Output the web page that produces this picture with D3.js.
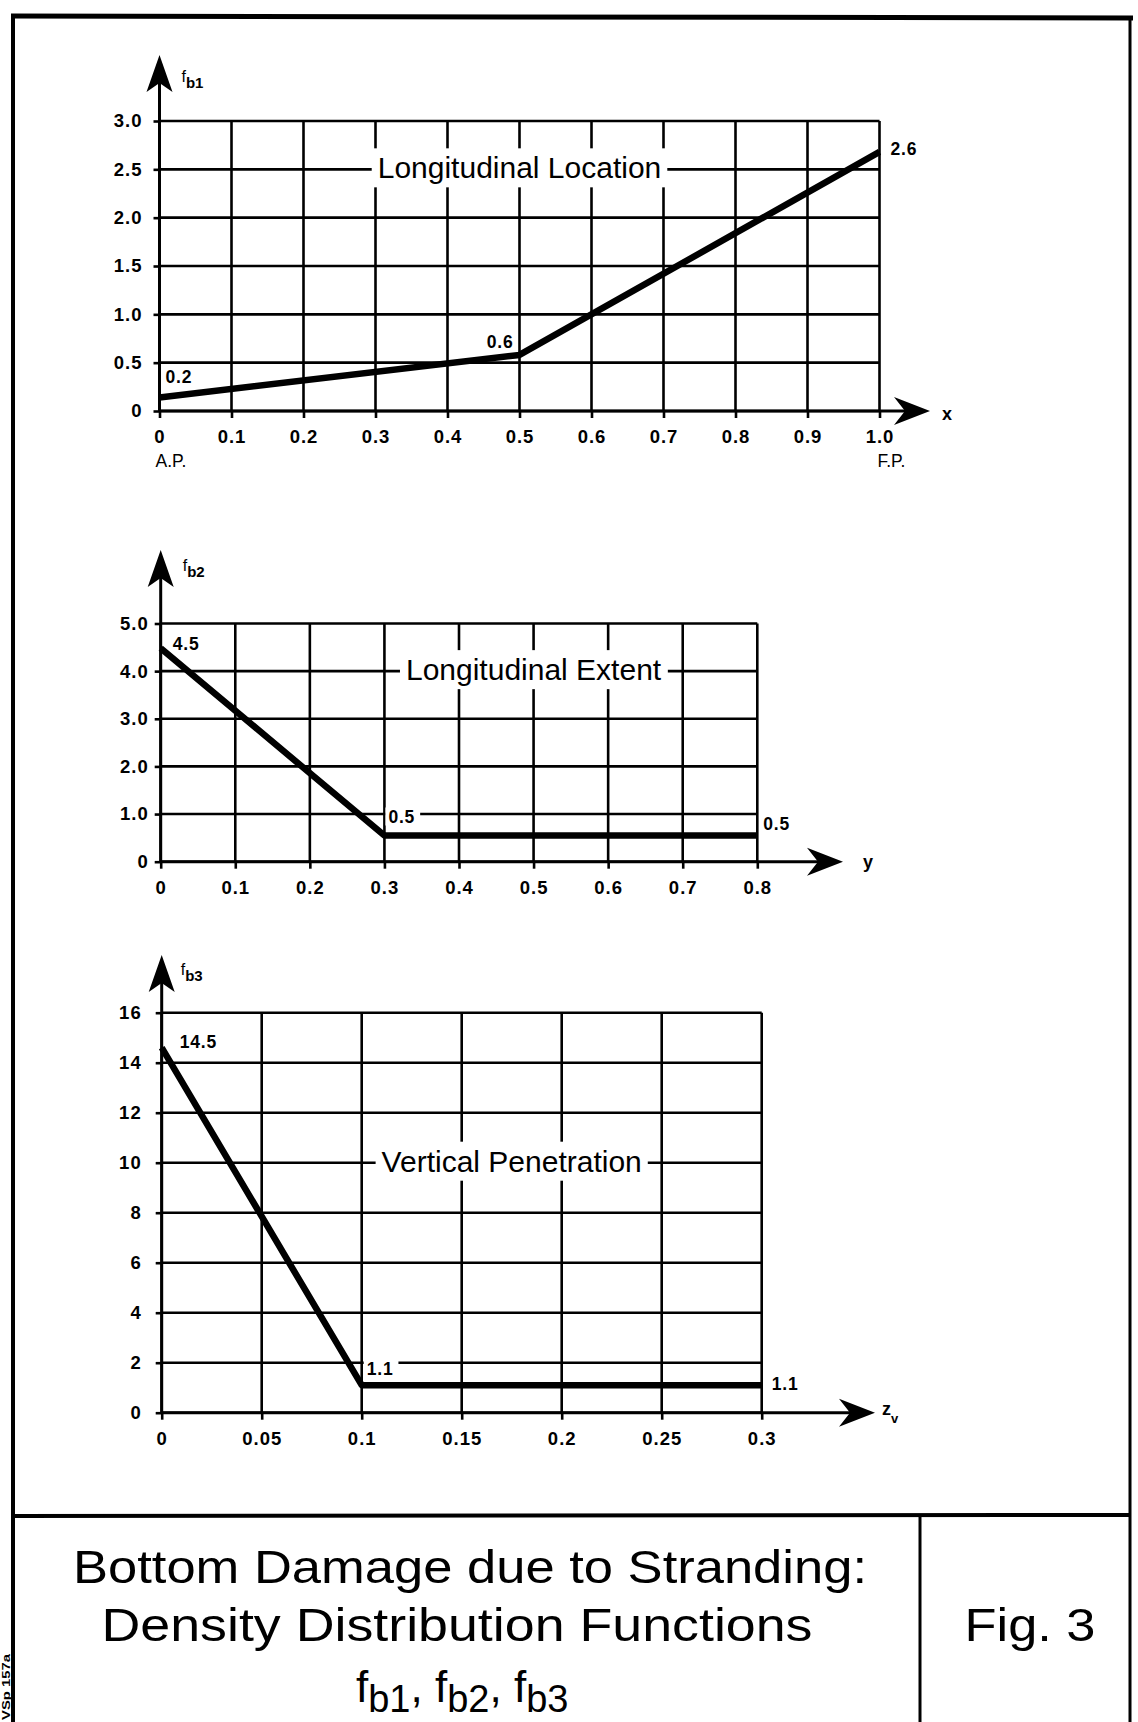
<!DOCTYPE html>
<html><head><meta charset="utf-8">
<script src="https://cdn.jsdelivr.net/npm/d3@7"></script>
<style>
html,body{margin:0;padding:0;background:#fff;}
svg{display:block;font-family:"Liberation Sans",Arial,Helvetica,sans-serif;}
</style></head><body>
<svg id="fig" width="1138" height="1722"></svg>
<script>
// ---------------- DATA ----------------
// Panel 1: f_b1 (longitudinal location)
const fb1X = [0, 0.5, 1.0];
const fb1Y = [0.14, 0.58, 2.68];
const fb1PointLabels = ["0.2", "0.6", "2.6"];
const fb1XTicks = [0, 0.1, 0.2, 0.3, 0.4, 0.5, 0.6, 0.7, 0.8, 0.9, 1.0];
const fb1XTickLabels = ["0", "0.1", "0.2", "0.3", "0.4", "0.5", "0.6", "0.7", "0.8", "0.9", "1.0"];
const fb1YTicks = [0, 0.5, 1.0, 1.5, 2.0, 2.5, 3.0];
const fb1YTickLabels = ["0", "0.5", "1.0", "1.5", "2.0", "2.5", "3.0"];
const fb1Title = "Longitudinal Location";
const fb1TitleAt = [0.5, 2.5];
const fb1EndLabels = ["A.P.", "F.P."];

// Panel 2: f_b2 (longitudinal extent)
const fb2X = [0, 0.3, 0.8];
const fb2Y = [4.48, 0.55, 0.55];
const fb2PointLabels = ["4.5", "0.5", "0.5"];
const fb2XTicks = [0, 0.1, 0.2, 0.3, 0.4, 0.5, 0.6, 0.7, 0.8];
const fb2XTickLabels = ["0", "0.1", "0.2", "0.3", "0.4", "0.5", "0.6", "0.7", "0.8"];
const fb2YTicks = [0, 1, 2, 3, 4, 5];
const fb2YTickLabels = ["0", "1.0", "2.0", "3.0", "4.0", "5.0"];
const fb2Title = "Longitudinal Extent";
const fb2TitleAt = [0.5, 4.0];

// Panel 3: f_b3 (vertical penetration)
const fb3X = [0, 0.1, 0.3];
const fb3Y = [14.6, 1.1, 1.1];
const fb3PointLabels = ["14.5", "1.1", "1.1"];
const fb3XTicks = [0, 0.05, 0.1, 0.15, 0.2, 0.25, 0.3];
const fb3XTickLabels = ["0", "0.05", "0.1", "0.15", "0.2", "0.25", "0.3"];
const fb3YTicks = [0, 2, 4, 6, 8, 10, 12, 14, 16];
const fb3YTickLabels = ["0", "2", "4", "6", "8", "10", "12", "14", "16"];
const fb3Title = "Vertical Penetration";
const fb3TitleAt = [0.175, 10];

const titleLines = ["Bottom Damage due to Stranding:", "Density Distribution Functions"];
const titleFuncs = ["b1", "b2", "b3"];
const figLabel = "Fig. 3";
const sideCode = "VSp 157a";

// ---------------- LAYOUT ----------------
const svg = d3.select("#fig");
svg.append("rect").attr("width", 1138).attr("height", 1722).attr("fill", "#fff");

const panels = [
  { xs: fb1X, ys: fb1Y, pl: fb1PointLabels, xTicks: fb1XTicks, xLabels: fb1XTickLabels,
    yTicks: fb1YTicks, yLabels: fb1YTickLabels, title: fb1Title, titleAt: fb1TitleAt,
    left: 159.5, right: 879.5, top: 121, bottom: 411, yPad: 11,
    yTip: 55, xTip: 930, xName: "x", xNameSub: null, yName: "b1",
    plOff: [[6, -14, "start", false], [-6, -7, "end", false], [11, 3, "start", false]],
    xNameOff: [12, 9], yNameOff: [22, 27] },
  { xs: fb2X, ys: fb2Y, pl: fb2PointLabels, xTicks: fb2XTicks, xLabels: fb2XTickLabels,
    yTicks: fb2YTicks, yLabels: fb2YTickLabels, title: fb2Title, titleAt: fb2TitleAt,
    left: 160.7, right: 757.3, top: 623.5, bottom: 861.7, yPad: 6,
    yTip: 550, xTip: 843, xName: "y", xNameSub: null, yName: "b2",
    plOff: [[12, 2, "start", false], [4, -12, "start", true], [6, -5, "start", false]],
    xNameOff: [20, 6], yNameOff: [22, 21] },
  { xs: fb3X, ys: fb3Y, pl: fb3PointLabels, xTicks: fb3XTicks, xLabels: fb3XTickLabels,
    yTicks: fb3YTicks, yLabels: fb3YTickLabels, title: fb3Title, titleAt: fb3TitleAt,
    left: 161.7, right: 761.7, top: 1012.7, bottom: 1412.7, yPad: 14,
    yTip: 955, xTip: 875, xName: "z", xNameSub: "v", yName: "b3",
    plOff: [[18, 0, "start", false], [5, -10, "start", true], [10, 5, "start", false]],
    xNameOff: [7, 2], yNameOff: [19, 20] }
];

const GRID_W = 2.6, LINE_W = 6.5;

function drawPanel(p, idx) {
  const g = svg.append("g").attr("class", "panel" + (idx + 1));
  const x = d3.scaleLinear().domain([p.xTicks[0], p.xTicks[p.xTicks.length - 1]]).range([p.left, p.right]);
  const y = d3.scaleLinear().domain([p.yTicks[0], p.yTicks[p.yTicks.length - 1]]).range([p.bottom, p.top]);
  const y0 = y(p.yTicks[0]), yMax = y(p.yTicks[p.yTicks.length - 1]);
  const x0 = x(p.xTicks[0]), xMax = x(p.xTicks[p.xTicks.length - 1]);

  // grid
  g.append("g").selectAll("line").data(p.xTicks).join("line")
    .attr("x1", d => x(d)).attr("x2", d => x(d)).attr("y1", y0).attr("y2", yMax)
    .attr("stroke", "#000").attr("stroke-width", GRID_W);
  g.append("g").selectAll("line").data(p.yTicks).join("line")
    .attr("x1", x0).attr("x2", xMax).attr("y1", d => y(d)).attr("y2", d => y(d))
    .attr("stroke", "#000").attr("stroke-width", GRID_W);

  // panel title with white box interrupting the grid
  const bg = g.append("rect").attr("fill", "#fff");
  const t = g.append("text").attr("x", x(p.titleAt[0])).attr("y", y(p.titleAt[1]) + 9)
    .attr("text-anchor", "middle").attr("font-size", 30).attr("fill", "#000").text(p.title);
  const bb = t.node().getBBox();
  bg.attr("x", bb.x - 6).attr("y", y(p.titleAt[1]) + 9 - 30).attr("width", bb.width + 12).attr("height", 39);

  // axes (ticks + labels)
  const xa = d3.axisBottom(x).tickValues(p.xTicks).tickFormat((d, i) => p.xLabels[i]).tickSize(7).tickPadding(12);
  const gx = g.append("g").attr("transform", `translate(0,${y0})`).call(xa);
  const ya = d3.axisLeft(y).tickValues(p.yTicks).tickFormat((d, i) => p.yLabels[i]).tickSize(6).tickPadding(p.yPad);
  const gy = g.append("g").attr("transform", `translate(${x0},0)`).call(ya);
  [gx, gy].forEach(a => {
    a.select(".domain").remove();
    a.selectAll(".tick line").attr("stroke", "#000").attr("stroke-width", GRID_W);
    a.selectAll(".tick text").attr("fill", "#000").attr("font-size", 18.5)
      .attr("font-weight", "bold").attr("font-family", '"Liberation Sans",Arial,sans-serif')
      .attr("letter-spacing", 1);
  });

  // axis lines + arrows
  g.append("line").attr("x1", x0).attr("x2", p.xTip - 20).attr("y1", y0).attr("y2", y0)
    .attr("stroke", "#000").attr("stroke-width", 3);
  g.append("line").attr("x1", x0).attr("x2", x0).attr("y1", y0).attr("y2", p.yTip + 20)
    .attr("stroke", "#000").attr("stroke-width", 3);
  g.append("path").attr("d", `M${x0},${p.yTip} L${x0 + 13},${p.yTip + 37} L${x0},${p.yTip + 28} L${x0 - 13},${p.yTip + 37} Z`)
    .attr("fill", "#000");
  g.append("path").attr("d", `M${p.xTip},${y0} L${p.xTip - 36},${y0 + 14} L${p.xTip - 25},${y0} L${p.xTip - 36},${y0 - 14} Z`)
    .attr("fill", "#000");

  // axis names
  const xn = g.append("text").attr("x", p.xTip + p.xNameOff[0]).attr("y", y0 + p.xNameOff[1])
    .attr("font-size", 18).attr("font-weight", "bold").attr("fill", "#000").text(p.xName);
  if (p.xNameSub) xn.append("tspan").attr("font-size", 13).attr("dy", 8).text(p.xNameSub);
  const yn = g.append("text").attr("x", x0 + p.yNameOff[0]).attr("y", p.yTip + p.yNameOff[1])
    .attr("font-size", 16).attr("fill", "#000").text("f");
  yn.append("tspan").attr("font-size", 15).attr("font-weight", "bold").attr("dy", 6).text(p.yName);

  // data line
  const pts = p.xs.map((d, i) => [d, p.ys[i]]);
  g.append("path").datum(pts)
    .attr("d", d3.line().x(d => x(d[0])).y(d => y(d[1])))
    .attr("fill", "none").attr("stroke", "#000").attr("stroke-width", LINE_W)
    .attr("stroke-linejoin", "round").attr("stroke-linecap", "butt");

  // point labels (some on a white patch that interrupts the grid line)
  const lg = g.append("g");
  pts.forEach((d, i) => {
    const o = p.plOff[i];
    const bgr = o[3] ? lg.append("rect").attr("fill", "#fff") : null;
    const tt = lg.append("text")
      .attr("x", x(d[0]) + o[0]).attr("y", y(d[1]) + o[1])
      .attr("text-anchor", o[2])
      .attr("font-size", 17.5).attr("font-weight", "bold").attr("fill", "#000")
      .attr("letter-spacing", 0.8).text(p.pl[i]);
    if (bgr) {
      const b = tt.node().getBBox();
      bgr.attr("x", b.x - 3).attr("y", b.y).attr("width", b.width + 8).attr("height", b.height - 2);
    }
  });

  return { x, y };
}

const scales = panels.map(drawPanel);

// A.P. / F.P. under first panel
const s1 = scales[0];
svg.append("g").selectAll("text").data([fb1XTicks[0], fb1XTicks[fb1XTicks.length - 1]]).join("text")
  .attr("x", (d, i) => s1.x(d) + (i === 0 ? -4 : -2))
  .attr("y", s1.y(0) + 56)
  .attr("font-size", 17.5).attr("fill", "#000")
  .text((d, i) => fb1EndLabels[i]);

// ---------------- FRAME & TITLE BLOCK ----------------
const frame = svg.append("g").attr("stroke", "#000").attr("fill", "none");
frame.append("line").attr("x1", 11).attr("x2", 1133).attr("y1", 16).attr("y2", 18).attr("stroke-width", 5);
frame.append("line").attr("x1", 13).attr("x2", 13).attr("y1", 14).attr("y2", 1722).attr("stroke-width", 4);
frame.append("line").attr("x1", 1130).attr("x2", 1130).attr("y1", 16).attr("y2", 1722).attr("stroke-width", 3);
frame.append("line").attr("x1", 13).attr("x2", 1131).attr("y1", 1516).attr("y2", 1515).attr("stroke-width", 4);
frame.append("line").attr("x1", 920).attr("x2", 920).attr("y1", 1515).attr("y2", 1722).attr("stroke-width", 3);

svg.append("text").attr("x", 470).attr("y", 1583).attr("text-anchor", "middle")
  .attr("font-size", 47).attr("textLength", 794).attr("lengthAdjust", "spacingAndGlyphs")
  .attr("fill", "#000").text(titleLines[0]);
svg.append("text").attr("x", 457).attr("y", 1641).attr("text-anchor", "middle")
  .attr("font-size", 47).attr("textLength", 711).attr("lengthAdjust", "spacingAndGlyphs")
  .attr("fill", "#000").text(titleLines[1]);
const t3 = svg.append("text").attr("x", 356).attr("y", 1702).attr("fill", "#000").attr("font-size", 44);
titleFuncs.forEach((f, i) => {
  t3.append("tspan").attr("font-size", 44).attr("dy", i === 0 ? 0 : -10).text((i === 0 ? "" : ", ") + "f");
  t3.append("tspan").attr("font-size", 38).attr("dy", 10).text(f);
});
svg.append("text").attr("x", 1030).attr("y", 1641).attr("text-anchor", "middle")
  .attr("font-size", 47).attr("textLength", 131).attr("lengthAdjust", "spacingAndGlyphs")
  .attr("fill", "#000").text(figLabel);

svg.append("text").attr("transform", "translate(10,1720) rotate(-90)")
  .attr("font-size", 11).attr("font-weight", "bold").attr("textLength", 66)
  .attr("lengthAdjust", "spacingAndGlyphs").attr("fill", "#000").text(sideCode);
</script>
</body></html>
